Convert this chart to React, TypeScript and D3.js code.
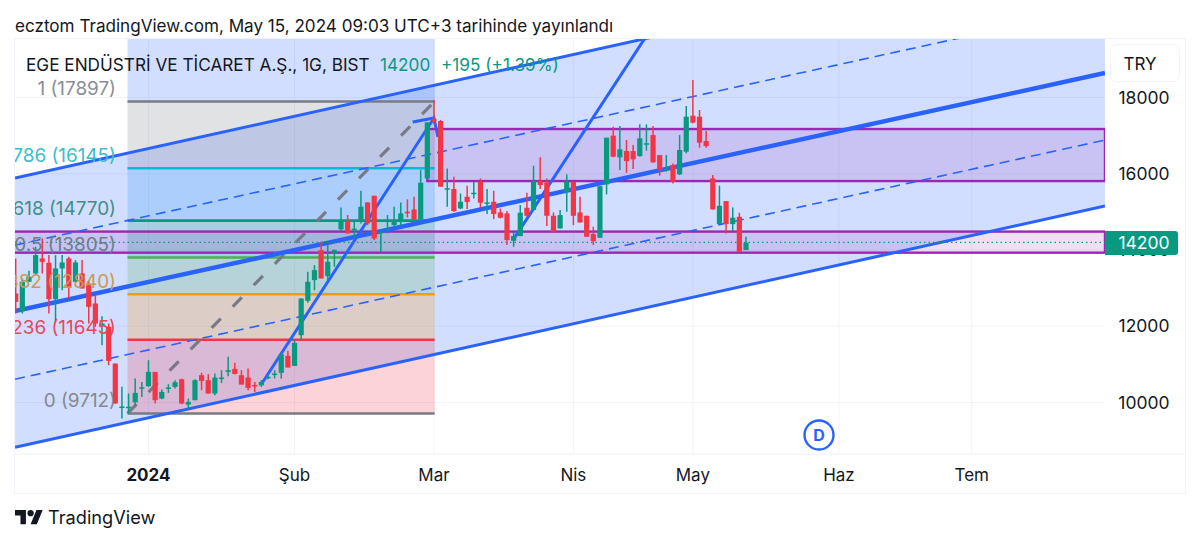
import * as d3 from "d3";
import React from "react";

const opens = [
  12860, 12395, 13166, 13385, 13778, 13665, 12710, 13516, 13778, 13166,
  13385, 13078, 12597, 12050, 11985, 11022, 9880, 9880, 10007, 10390,
  10427, 10803, 10103, 10380, 10410, 10610, 9946, 10060, 10716, 10585,
  10235, 10640, 10803, 10882, 10716, 10655, 10460, 10450, 10665, 10750,
  10777, 11223, 10960, 11766, 12667, 13210, 13997, 13315, 13927,
  14540, 14767, 14550, 14741, 15248, 15423, 14470, 14550, 14653, 14741, 15003, 15064, 14802, 15878,
  17440, 17383, 15610, 15598, 15090, 15397, 15490, 15790, 15235, 15266,
  14986, 14960, 14242, 14365, 15108, 15047, 15808, 15773, 14898, 14565,
  15528, 15790, 14986, 14898, 14417, 14320, 15721, 17000, 16430, 16596,
  16596, 16465, 16790, 17015, 16490, 16115, 16228, 15983, 16578, 17523,
  17497, 16858, 15878, 14680, 15283, 14680, 14872, 13997,
];
const closes = [
  12640, 13166, 13297, 13866, 13690, 12710, 13516, 13673, 13035, 13673,
  12990, 12510, 12072, 12072, 11092, 9972, 9895, 9890, 10252, 10400,
  10803, 10060, 10278, 10395, 10532, 9972, 10015, 10585, 10567, 10235,
  10655, 10655, 10847, 10750, 10470, 10383, 10450, 10540, 10675, 10760,
  11267, 10917, 11565, 12728, 13166, 13472, 13253, 13690, 13997,
  14767, 14435, 14560, 15135, 14697, 14303, 14480, 14560, 14741, 14960, 14990, 14802, 15764, 17348,
  17380, 15660, 15620, 15021, 15266, 15257, 15502, 15240, 15250, 14942,
  14846, 14260, 14365, 14977, 14898, 15808, 15703, 14898, 14478, 14916,
  15790, 14898, 14723, 14347, 14233, 15675, 16945, 16447, 16640, 16333,
  16377, 16928, 16800, 16298, 16097, 16125, 15790, 16622, 17497, 17340,
  16815, 16727, 15064, 15160, 14680, 14846, 13953, 14190,
];
const highs = [
  13778, 13253, 13455, 14085, 14303, 13866, 13866, 13866, 13822, 13735,
  13735, 13210, 12816, 12265, 12072, 11022, 10410, 10235, 10628, 10540,
  11110, 10803, 10340, 10480, 10585, 10628, 10103, 10610, 10777, 10742,
  10760, 10847, 11197, 11040, 10847, 10890, 10540, 10585, 10742, 10847,
  11302, 11355, 11635, 12728, 13428, 13603, 14216, 14128, 14015,
  15117, 14916, 14785, 15554, 15248, 15423, 14500, 14916, 15135, 15248, 15327, 15397, 16097, 17348,
  17935, 17410, 16140, 15922, 15485, 15686, 15790, 15878, 15598, 15554,
  15090, 15021, 14478, 15178, 15502, 16210, 16430, 15878, 14986, 15047,
  15983, 15790, 15397, 14898, 14610, 15675, 16945, 17235, 17252, 16885,
  16753, 17296, 17296, 17252, 16490, 16490, 16272, 17015, 17777, 18460,
  17672, 17120, 15966, 15686, 15283, 15117, 14977, 14347,
];
const lows = [
  12335, 12335, 13160, 13340, 13385, 12335, 12116, 12947, 12728, 13150,
  12990, 12072, 11985, 11503, 10978, 9972, 9578, 9710, 9928, 10147,
  10410, 9972, 10085, 10252, 10365, 9955, 9840, 10060, 10322, 10235,
  10191, 10515, 10690, 10733, 10470, 10322, 10278, 10410, 10610, 10630,
  10628, 10917, 10960, 11635, 12614, 12947, 13253, 13210, 13560,
  14505, 14435, 14303, 14697, 14653, 14260, 13953, 14435, 14610, 14653, 14855, 14785, 14802, 15860,
  17300, 15660, 15135, 15003, 15073, 15073, 15353, 15090, 14942, 14810,
  14828, 14128, 14085, 14365, 14872, 15047, 15598, 14627, 14460, 14565,
  15003, 14653, 14723, 14347, 14128, 14320, 15458, 16430, 16097, 16027,
  16123, 16447, 16605, 16298, 15948, 16053, 15747, 15966, 16535, 17322,
  16683, 16683, 15064, 14680, 14435, 14504, 13953, 13997,
];

const priceTicks = [10000, 12000, 14000, 16000, 18000];
const timeLabels = ["2024", "Şub", "Mar", "Nis", "May", "Haz", "Tem"];
const timeIndex = [20, 42, 63, 84, 102, 124, 144];

// fib retracement levels, top to bottom
const fibRatios = ["1", "0.786", "0.618", "0.5", "0.382", "0.236", "0"];
const fibPrices = [17897, 16145, 14770, 13805, 12840, 11645, 9712];
const fibColors = ["#787b86", "#00bcd4", "#089981", "#4caf50", "#ff9800", "#f23645", "#787b86"];
const fibLabelColors = ["#8a8d96", "#3dbccb", "#3f8f88", "#64808a", "#c99a55", "#e8475a", "#85888f"];
const fibFillColors = ["#787b86", "#2196f3", "#089981", "#4caf50", "#ff9800", "#f23645"];
const fibRange = [16.84, 63.1];
const fibExtensionTop = 23000;

// parallel channel: prices at left and right end, top to bottom
const channelRange = [-0.1, 164.07];
const channelStart = [15887, 14128, 12396, 10611, 8826];
const channelEnd = [22213, 20394, 18643, 16884, 15152];

const lastPrice = 14200;
const upperBox = [17173, 15808];
const lowerBox = [14483, 13930];

const W = 1200;
const H = 544;
const plot = { left: 15, right: 1105, top: 39, bottom: 454 };

const GREEN = "#089981";
const RED = "#f23645";
const BLUE = "#2962ff";
const PURPLE = "#9c27b0";
const FONT = "Inter, 'Noto Sans', sans-serif";

const x = d3.scaleLinear().domain([0, 110]).range([15.7, 746]);
const y = d3.scaleLinear().domain([10000, 18000]).range([402.5, 97.5]);
const seg = d3.line<[number, number]>().x((d) => x(d[0])).y((d) => y(d[1]));

const channelPath = (i: number) =>
  seg([[channelRange[0], channelStart[i]], [channelRange[1], channelEnd[i]]]) as string;

const App: React.FC = () => {
  const bodyW = 5.2;
  const channelPoly = seg([
    [channelRange[0], channelStart[0]],
    [channelRange[1], channelEnd[0]],
    [channelRange[1], channelEnd[4]],
    [channelRange[0], channelStart[4]],
  ]) + "Z";

  return (
    <svg
      width={W}
      height={H}
      style={{ position: "absolute", left: 0, top: 0, background: "#fff", fontFamily: FONT }}
    >
      <defs>
        <clipPath id="plot">
          <rect x={plot.left} y={plot.top} width={plot.right - plot.left} height={plot.bottom - plot.top} />
        </clipPath>
      </defs>

      <text x={15} y={32} fontSize={17.1} fill="#131722">
        ecztom TradingView.com, May 15, 2024 09:03 UTC+3 tarihinde yayınlandı
      </text>

      {/* frame */}
      <rect x={14.5} y={38.5} width={1171} height={455} fill="none" stroke="#f0f3fa" />
      <line x1={14.5} x2={1185} y1={plot.bottom} y2={plot.bottom} stroke="#eef1f7" />

      {/* grid */}
      {priceTicks.map((t) => (
        <line key={t} x1={plot.left} x2={plot.right} y1={y(t)} y2={y(t)} stroke="#f0f3fa" />
      ))}
      {timeIndex.map((t) => (
        <line key={t} x1={x(t)} x2={x(t)} y1={plot.top} y2={plot.bottom} stroke="#f0f3fa" />
      ))}

      <g clipPath="url(#plot)">
        <path d={channelPoly} fill={BLUE} fillOpacity={0.21} />

        {/* fib bands */}
        <rect
          x={x(fibRange[0])}
          width={x(fibRange[1]) - x(fibRange[0])}
          y={y(fibExtensionTop)}
          height={y(fibPrices[0]) - y(fibExtensionTop)}
          fill={BLUE}
          fillOpacity={0.21}
        />
        {fibFillColors.map((c, i) => (
          <rect
            key={i}
            x={x(fibRange[0])}
            width={x(fibRange[1]) - x(fibRange[0])}
            y={y(fibPrices[i])}
            height={y(fibPrices[i + 1]) - y(fibPrices[i])}
            fill={c}
            fillOpacity={0.22}
          />
        ))}

        {/* purple boxes */}
        {[upperBox, lowerBox].map((b, i) => (
          <rect
            key={i}
            x={i === 0 ? x(62) : x(-3)}
            width={x(channelRange[1]) - (i === 0 ? x(62) : x(-3))}
            y={y(b[0])}
            height={y(b[1]) - y(b[0])}
            fill={PURPLE}
            fillOpacity={0.15}
            stroke={PURPLE}
            strokeWidth={2.4}
          />
        ))}

        {fibColors.map((c, i) => (
          <line
            key={i}
            x1={x(fibRange[0])}
            x2={x(fibRange[1])}
            y1={y(fibPrices[i])}
            y2={y(fibPrices[i])}
            stroke={c}
            strokeWidth={2.6}
          />
        ))}

        {/* fib trend line */}
        <path
          d={seg([[fibRange[0], fibPrices[6]], [fibRange[1], fibPrices[0]]]) as string}
          fill="none"
          stroke="#787b86"
          strokeWidth={3.2}
          strokeDasharray="13 17"
        />

        {/* channel lines */}
        <path d={channelPath(0)} fill="none" stroke={BLUE} strokeWidth={3} />
        <path d={channelPath(1)} fill="none" stroke={BLUE} strokeWidth={1.6} strokeDasharray="10 6" />
        <path d={channelPath(2)} fill="none" stroke={BLUE} strokeWidth={4.5} />
        <path d={channelPath(3)} fill="none" stroke={BLUE} strokeWidth={1.6} strokeDasharray="10 6" />
        <path d={channelPath(4)} fill="none" stroke={BLUE} strokeWidth={3} />

        {/* hand drawn swings */}
        <path d={seg([[37.1, 10506], [63, 17462], [63.6, 16963]]) as string} fill="none" stroke={BLUE} strokeWidth={3} />
        <path d={seg([[59.8, 17357], [63, 17462]]) as string} fill="none" stroke={BLUE} strokeWidth={3} />
        <path d={seg([[74.9, 14259], [94.8, 19562]]) as string} fill="none" stroke={BLUE} strokeWidth={3} />

        {/* last price line */}
        <line
          x1={plot.left}
          x2={plot.right}
          y1={y(lastPrice)}
          y2={y(lastPrice)}
          stroke={GREEN}
          strokeWidth={1.2}
          strokeDasharray="1.5 3"
        />

        {/* candles */}
        {opens.map((o, i) => {
          const c = closes[i];
          const col = c >= o ? GREEN : RED;
          const top = y(Math.max(o, c));
          const bot = y(Math.min(o, c));
          return (
            <g key={i}>
              <line x1={x(i)} x2={x(i)} y1={y(highs[i])} y2={y(lows[i])} stroke={col} strokeWidth={1.5} />
              <rect x={x(i) - bodyW / 2} width={bodyW} y={top} height={Math.max(bot - top, 1.5)} fill={col} />
            </g>
          );
        })}

        {/* fib labels */}
        {fibRatios.map((r, i) => (
          <text
            key={r}
            x={116}
            y={y(fibPrices[i]) - 6}
            textAnchor="end"
            fontSize={18.9}
            fill={fibLabelColors[i]}
          >
            {`${r} (${fibPrices[i]})`}
          </text>
        ))}
      </g>

      {/* legend */}
      <text x={26} y={71} fontSize={17.2} fill="#131722">
        EGE ENDÜSTRİ VE TİCARET A.Ş., 1G, BIST
      </text>
      <text x={380} y={71} fontSize={17.2} fill={GREEN}>14200</text>
      <text x={441} y={71} fontSize={17.2} fill={GREEN}>+195 (+1.39%)</text>

      {/* price axis */}
      {priceTicks.map((t) => (
        <text key={t} x={1144} y={y(t) + 6} textAnchor="middle" fontSize={17.5} fill="#131722">
          {t}
        </text>
      ))}
      <rect x={1110.5} y={44.5} width={69} height={37} rx={6} fill="#fff" stroke="#f0f3fa" />
      <text x={1140} y={70} textAnchor="middle" fontSize={17} fill="#131722">TRY</text>
      <path d="M1105 231h70a3 3 0 0 1 3 3v18a3 3 0 0 1 -3 3h-70z" fill={GREEN} />
      <text x={1144} y={y(lastPrice) + 6.5} textAnchor="middle" fontSize={17.5} fill="#fff">
        {lastPrice}
      </text>

      {/* time axis */}
      {timeLabels.map((t, i) => (
        <text
          key={t}
          x={x(timeIndex[i])}
          y={481}
          textAnchor="middle"
          fontSize={17}
          fontWeight={t === "2024" ? 700 : 400}
          fill="#131722"
        >
          {t}
        </text>
      ))}

      {/* dividend marker */}
      <circle cx={819} cy={435} r={14.5} fill="#fff" stroke={BLUE} strokeWidth={2.4} />
      <text x={819} y={441} textAnchor="middle" fontSize={16} fontWeight={700} fill={BLUE}>D</text>

      {/* TradingView mark */}
      <g transform="translate(15,507) scale(0.78)" fill="#131722">
        <path d="M14 22H7V11H0V4h14v18zM28 22h-8l7.5-18h8L28 22z" />
        <circle cx={20} cy={8} r={4} />
      </g>
      <text x={48} y={524} fontSize={18.2} fill="#131722">TradingView</text>
    </svg>
  );
};

export default App;
